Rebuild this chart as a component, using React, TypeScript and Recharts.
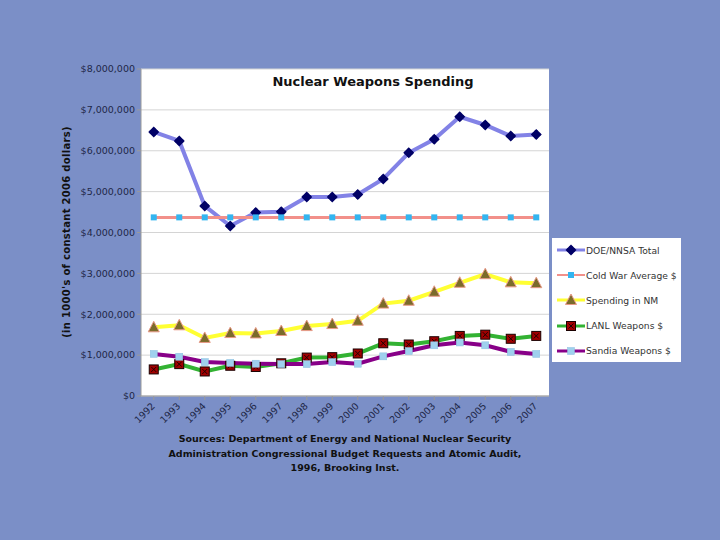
import React from "react";
import {
  LineChart,
  Line,
  XAxis,
  YAxis,
  CartesianGrid,
} from "recharts";

// values in 1000's of constant 2006 dollars
const years = [
  "1992", "1993", "1994", "1995", "1996", "1997", "1998", "1999",
  "2000", "2001", "2002", "2003", "2004", "2005", "2006", "2007",
];
const doeTotal = [
  6460000, 6240000, 4650000, 4160000, 4490000, 4510000, 4870000, 4870000,
  4930000, 5310000, 5950000, 6280000, 6830000, 6630000, 6360000, 6400000,
];
const coldWarAvg = [
  4370000, 4370000, 4370000, 4370000, 4370000, 4370000, 4370000, 4370000,
  4370000, 4370000, 4370000, 4370000, 4370000, 4370000, 4370000, 4370000,
];
const spendingNM = [
  1680000, 1730000, 1420000, 1540000, 1530000, 1590000, 1710000, 1760000,
  1840000, 2260000, 2330000, 2550000, 2770000, 2980000, 2780000, 2760000,
];
const lanl = [
  650000, 780000, 600000, 740000, 710000, 800000, 940000, 950000,
  1040000, 1290000, 1260000, 1340000, 1470000, 1500000, 1400000, 1470000,
];
const sandia = [
  1030000, 960000, 830000, 810000, 790000, 780000, 780000, 830000,
  790000, 970000, 1100000, 1240000, 1310000, 1240000, 1080000, 1030000,
];
const yTicks = [0, 1000000, 2000000, 3000000, 4000000, 5000000, 6000000, 7000000, 8000000];

const data = years.map((year, i) => ({
  year,
  doe: doeTotal[i],
  cold: coldWarAvg[i],
  nm: spendingNM[i],
  lanl: lanl[i],
  sandia: sandia[i],
}));

const FONT = "'DejaVu Sans', Verdana, sans-serif";

type Marker = "diamond" | "smallSquare" | "triangle" | "xSquare" | "square";

function drawMarker(kind: Marker, cx: number, cy: number) {
  if (kind === "diamond") {
    return (
      <g>
        <path d={`M${cx},${cy - 5.5} L${cx + 5.5},${cy} L${cx},${cy + 5.5} L${cx - 5.5},${cy} Z`} fill="#000066" />
        <rect x={cx - 4} y={cy - 1.5} width={8} height={3} fill="#000066" />
        <rect x={cx - 1.5} y={cy - 4} width={3} height={8} fill="#000066" />
      </g>
    );
  }
  if (kind === "smallSquare") {
    return <rect x={cx - 3} y={cy - 3} width={6} height={6} fill="#33b5f0" />;
  }
  if (kind === "triangle") {
    return (
      <path
        d={`M${cx},${cy - 6} L${cx + 5.5},${cy + 4.5} L${cx - 5.5},${cy + 4.5} Z`}
        fill="#7b6b2a"
        stroke="#e89a88"
        strokeWidth={1}
      />
    );
  }
  if (kind === "xSquare") {
    return (
      <g>
        <rect x={cx - 4.5} y={cy - 4.5} width={9} height={9} fill="#a00000" stroke="#1a0000" strokeWidth={1} />
        <path d={`M${cx - 2.5},${cy - 2.5} L${cx + 2.5},${cy + 2.5} M${cx + 2.5},${cy - 2.5} L${cx - 2.5},${cy + 2.5}`} stroke="#220000" strokeWidth={1} />
      </g>
    );
  }
  return <rect x={cx - 3.5} y={cy - 3.5} width={7} height={7} fill="#9fd0ee" stroke="#8cc0e0" strokeWidth={0.5} />;
}

const series: { key: string; name: string; color: string; width: number; marker: Marker }[] = [
  { key: "doe", name: "DOE/NNSA Total", color: "#8282e6", width: 4, marker: "diamond" },
  { key: "cold", name: "Cold War Average $", color: "#f2908a", width: 3, marker: "smallSquare" },
  { key: "nm", name: "Spending in NM", color: "#ffff33", width: 4, marker: "triangle" },
  { key: "lanl", name: "LANL Weapons $", color: "#33b233", width: 4, marker: "xSquare" },
  { key: "sandia", name: "Sandia Weapons $", color: "#880088", width: 4, marker: "square" },
];

function LegendBox() {
  return (
    <div
      style={{
        position: "absolute",
        left: 552,
        top: 238,
        width: 129,
        height: 124,
        background: "white",
      }}
    >
      {series.map((s, i) => (
        <div
          key={s.key}
          style={{ position: "absolute", top: 5 + i * 25.2, left: 0, display: "flex", alignItems: "center", height: 14 }}
        >
          <svg width={31} height={14} style={{ marginLeft: 3 }}>
            <line x1={2} y1={7} x2={30} y2={7} stroke={s.color} strokeWidth={s.width - 1} />
            {drawMarker(s.marker, 16, 7)}
          </svg>
          <span style={{ fontFamily: FONT, fontSize: 9.2, color: "#333", whiteSpace: "nowrap" }}>{s.name}</span>
        </div>
      ))}
    </div>
  );
}

export default function App() {
  return (
    <div
      style={{
        position: "absolute",
        left: 0,
        top: 0,
        width: 720,
        height: 540,
        background: "#7b8fc7",
        overflow: "hidden",
      }}
    >
      <LineChart
        width={720}
        height={540}
        data={data}
        margin={{ top: 69, right: 171, bottom: 104, left: 61 }}
      >
        <CartesianGrid vertical={false} fill="white" stroke="#d4d4d4" />
        <XAxis
          dataKey="year"
          interval={0}
          height={40}
          padding={{ left: 12.75, right: 12.75 }}
          axisLine={{ stroke: "#9a9a9a" }}
          tickLine={{ stroke: "#9a9a9a" }}
          tickSize={4}
          angle={-45}
          textAnchor="end"
          dx={-3}
          tick={{ fontFamily: FONT, fontSize: 9.5, fill: "#1e2747" }}
        />
        <YAxis
          width={80}
          domain={[0, 8000000]}
          ticks={yTicks}
          interval={0}
          axisLine={{ stroke: "#9a9a9a" }}
          tickLine={{ stroke: "#9a9a9a" }}
          tickSize={4}
          tickFormatter={(v: number) => "$" + v.toLocaleString("en-US")}
          tick={{ fontFamily: FONT, fontSize: 9.5, fill: "#1e2747" }}
        />
        {series.map((s) => (
          <Line
            key={s.key}
            type="linear"
            dataKey={s.key}
            name={s.name}
            stroke={s.color}
            strokeWidth={s.width}
            isAnimationActive={false}
            dot={(p: any) => <g key={`${s.key}-${p.index}`}>{drawMarker(s.marker, p.cx, p.cy)}</g>}
            activeDot={false}
          />
        ))}
      </LineChart>
      <LegendBox />
      <div
        style={{
          position: "absolute",
          left: 141,
          width: 464,
          top: 74,
          textAlign: "center",
          fontFamily: FONT,
          fontWeight: "bold",
          fontSize: 13,
          color: "#111",
        }}
      >
        Nuclear Weapons Spending
      </div>
      <div
        style={{
          position: "absolute",
          left: 66,
          top: 232,
          transform: "translate(-50%, -50%) rotate(-90deg)",
          whiteSpace: "nowrap",
          fontFamily: FONT,
          fontWeight: "bold",
          fontSize: 10,
          letterSpacing: 0.3,
          color: "#111",
        }}
      >
        (in 1000's of constant 2006 dollars)
      </div>
      <div
        style={{
          position: "absolute",
          left: 145,
          width: 400,
          top: 432,
          textAlign: "center",
          fontFamily: FONT,
          fontWeight: "bold",
          fontSize: 9.5,
          lineHeight: "14.5px",
          color: "#111",
        }}
      >
        Sources: Department of Energy and National Nuclear Security
        <br />
        Administration Congressional Budget Requests and Atomic Audit,
        <br />
        1996, Brooking Inst.
      </div>
    </div>
  );
}
